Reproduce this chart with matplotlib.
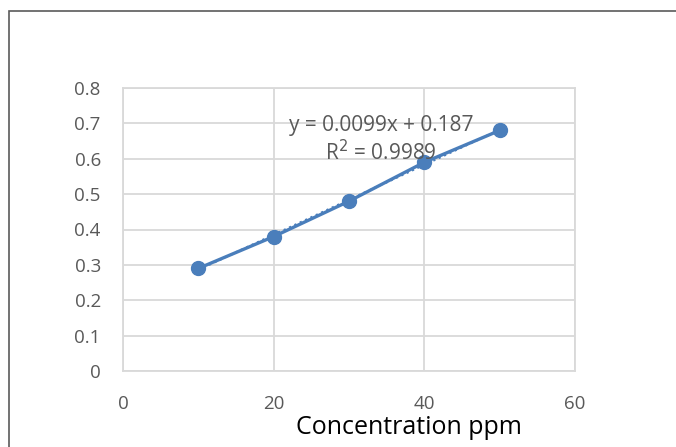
import matplotlib
matplotlib.use("Agg")
import matplotlib.pyplot as plt
import numpy as np
from matplotlib.patches import Rectangle

conc = [10, 20, 30, 40, 50]
absorb = [0.29, 0.38, 0.48, 0.59, 0.68]
eq_text = "y = 0.0099x + 0.187"
r2_text = "R$^2$ = 0.9989"

plt.rcParams['font.family'] = ['Open Sans', 'DejaVu Sans']
blue = '#4a7ebb'
grid = '#d9d9d9'

fig = plt.figure(figsize=(6.76, 4.47), dpi=100)
ax = fig.add_axes([123/676, 1-371/447, (575-123)/676, (371-88)/447])

# trendline (linear fit)
k, b = np.polyfit(conc, absorb, 1)
xs = np.array([conc[0], conc[-1]])
ax.plot(xs, k*xs + b, ls=':', color=blue, lw=1.6, zorder=2)
ax.plot(conc, absorb, color=blue, lw=2.4, marker='o', ms=10, zorder=3)

ax.set_xlim(0, 60)
ax.set_ylim(0, 0.8)
ax.set_xticks([0, 20, 40, 60])
ax.set_yticks(np.arange(0, 0.81, 0.1))
ax.set_yticklabels(['0', '0.1', '0.2', '0.3', '0.4', '0.5', '0.6', '0.7', '0.8'])
ax.grid(True, color=grid, lw=1.3)
ax.set_axisbelow(True)
for s in ax.spines.values():
    s.set_color(grid)
    s.set_linewidth(1.3)
ax.tick_params(length=0, labelsize=13.5, labelcolor='#595959')
ax.tick_params(axis='x', pad=17)
ax.tick_params(axis='y', pad=16)

ax.text(0.571, 0.866, eq_text, transform=ax.transAxes, fontsize=15,
        color='#595959', ha='center', va='center')
ax.text(0.571, 0.770, r2_text, transform=ax.transAxes, fontsize=15,
        color='#595959', ha='center', va='center')

fig.text(409/676, 1-428/447, 'Concentration ppm', fontsize=18,
         color='black', ha='center', va='center')

fig.patches.append(Rectangle((9/676, -0.1), 1.2, 1-11/447+0.1,
                             transform=fig.transFigure, fill=False,
                             edgecolor='#5a5a5a', lw=1.2))

fig.savefig('out.png', dpi=100)
